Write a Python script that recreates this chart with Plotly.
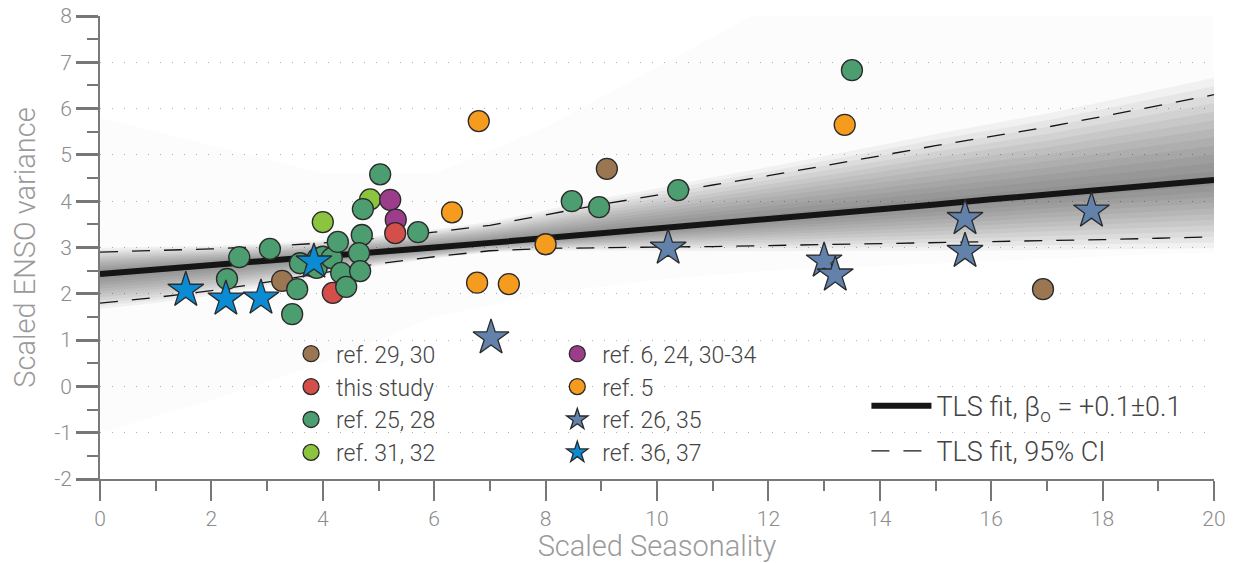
import numpy as np
import plotly.graph_objects as go

# ---------------- data ----------------
brown_x = [3.27, 9.10, 16.93]
brown_y = [2.28, 4.70, 2.10]
red_x = [4.18, 5.30]
red_y = [2.02, 3.31]
green_x = [3.54, 3.45, 3.05, 2.50, 2.28, 3.59, 3.91, 4.00, 3.89, 4.16, 4.27, 4.33, 4.42,
           4.70, 4.65, 4.67, 4.72, 5.03, 5.71, 8.47, 8.96, 10.38, 13.50]
green_y = [2.10, 1.56, 2.97, 2.79, 2.32, 2.66, 2.77, 2.80, 2.56, 2.77, 3.12, 2.45, 2.15,
           3.27, 2.88, 2.49, 3.83, 4.58, 3.33, 4.00, 3.87, 4.24, 6.83]
lgreen_x = [4.00, 4.85]
lgreen_y = [3.55, 4.04]
magenta_x = [5.21, 5.31, 3.81]
magenta_y = [4.03, 3.60, 2.60]
orange_x = [6.80, 6.32, 6.77, 7.34, 8.00, 13.37]
orange_y = [5.73, 3.76, 2.24, 2.21, 3.07, 5.65]
star26_x = [7.02, 10.20, 13.00, 13.20, 15.53, 15.53, 17.80]
star26_y = [1.05, 2.99, 2.71, 2.41, 3.63, 2.92, 3.79]
star36_x = [1.54, 2.26, 2.89, 3.84]
star36_y = [2.08, 1.89, 1.91, 2.69]

fit_x = list(range(0, 21))
fit_y = [2.43, 2.52, 2.62, 2.71, 2.80, 2.90, 3.00, 3.10, 3.20, 3.30, 3.40,
         3.51, 3.62, 3.72, 3.83, 3.93, 4.04, 4.14, 4.25, 4.35, 4.46]
ci_up = [2.90, 2.93, 2.97, 3.02, 3.10, 3.20, 3.33, 3.48, 3.70, 3.93, 4.13,
         4.35, 4.55, 4.76, 4.98, 5.20, 5.40, 5.60, 5.83, 6.07, 6.30]
ci_lo = [1.80, 1.92, 2.07, 2.25, 2.45, 2.65, 2.80, 2.93, 2.98, 3.00, 3.01,
         3.02, 3.04, 3.06, 3.08, 3.10, 3.12, 3.14, 3.17, 3.20, 3.23]
# faint outer fan of bootstrap fits
fan_x = [0, 2, 4, 6, 8, 10, 12, 14, 16, 18, 20]
fan_up = [5.8, 5.2, 4.6, 4.6, 5.6, 6.9, 8.2, 8.5, 8.5, 8.5, 8.5]
fan_lo = [-1.0, -0.3, 0.5, 1.5, 2.0, 2.3, 2.5, 2.6, 2.7, 2.8, 2.9]

xticks = [0, 2, 4, 6, 8, 10, 12, 14, 16, 18, 20]
yticks = [-2, -1, 0, 1, 2, 3, 4, 5, 6, 7, 8]
yticklabels = ["-2", "-1", "0", "1", "2", "3", "4", "5", "6", "7", "8"]

FONT = "Roboto"
fig = go.Figure()

# faint fan
fig.add_trace(go.Scatter(x=fan_x + fan_x[::-1], y=fan_up + fan_lo[::-1], fill="toself",
                         fillcolor="rgba(0,0,0,0.012)", line=dict(width=0),
                         mode="lines", showlegend=False, hoverinfo="skip"))
# graded density bands around the fit (smooth gradient)
fx = np.array(fit_x, float)
fy = np.array(fit_y)
up = np.array(ci_up)
lo = np.array(ci_lo)
for f in np.linspace(1.2, 0.1, 12):
    yu = fy + f * (up - fy)
    yl = fy - f * (fy - lo)
    fig.add_trace(go.Scatter(x=np.concatenate([fx, fx[::-1]]), y=np.concatenate([yu, yl[::-1]]),
                             fill="toself", fillcolor="rgba(0,0,0,0.045)", line=dict(width=0),
                             mode="lines", showlegend=False, hoverinfo="skip"))

# fit and CI
fig.add_trace(go.Scatter(x=fit_x, y=fit_y, mode="lines", line=dict(color="#151515", width=6),
                         name="TLS fit, β<sub>o</sub> = +0.1±0.1", legend="legend3",
                         legendgroup="fit", hoverinfo="skip"))
fig.add_trace(go.Scatter(x=fit_x, y=ci_up, mode="lines",
                         line=dict(color="#151515", width=1.3, dash="18px,14px"),
                         name="TLS fit, 95% CI", legend="legend3", legendgroup="ci", hoverinfo="skip"))
fig.add_trace(go.Scatter(x=fit_x, y=ci_lo, mode="lines",
                         line=dict(color="#151515", width=1.3, dash="18px,14px"),
                         showlegend=False, legendgroup="ci", hoverinfo="skip"))

mline = dict(color="#2a2a2a", width=1.3)
def circ(x, y, color, name, leg, rank):
    fig.add_trace(go.Scatter(x=x, y=y, mode="markers", name=name, legend=leg, legendrank=rank,
                             legendgroup=name,
                             marker=dict(symbol="circle", size=21, color=color, line=mline)))
def star(x, y, color, name, leg, rank):
    fig.add_trace(go.Scatter(x=x, y=y, mode="markers", name=name, legend=leg, legendrank=rank,
                             legendgroup=name,
                             marker=dict(symbol="star", size=27, color=color, line=mline)))

circ(lgreen_x, lgreen_y, "#8cc43f", "ref. 31, 32", "legend", 4)
circ(magenta_x, magenta_y, "#9c3d8c", "ref. 6, 24, 30-34", "legend2", 1)
circ(red_x, red_y, "#d44f4a", "this study", "legend", 2)
circ(brown_x, brown_y, "#9a7652", "ref. 29, 30", "legend", 1)
circ(green_x, green_y, "#4c9d70", "ref. 25, 28", "legend", 3)
circ(orange_x, orange_y, "#f59c1e", "ref. 5", "legend2", 2)
star(star26_x, star26_y, "#6282ac", "ref. 26, 35", "legend2", 3)
star(star36_x, star36_y, "#0b8bd3", "ref. 36, 37", "legend2", 4)

def leg(x, y, size, gap, **kw):
    return dict(x=x, y=y, bgcolor="rgba(0,0,0,0)",
                font=dict(family=FONT, size=size, color="#444", weight=300),
                xanchor="left", yanchor="top", tracegroupgap=gap, itemsizing="trace", **kw)

axfont = dict(family=FONT, size=21, color="#8c8c8c", weight=300)
titfont = dict(family=FONT, size=29, color="#9a9a9a", weight=300)
fig.update_layout(
    width=1234, height=563,
    margin=dict(l=100, r=20, t=16, b=84, autoexpand=False),
    plot_bgcolor="white", paper_bgcolor="white",
    showlegend=True,
    legend=leg(0.167, 0.317, 23, 0, itemwidth=40),
    legend2=leg(0.406, 0.317, 23, 0, itemwidth=40),
    legend3=leg(0.688, 0.21, 27, 7, itemwidth=60),
    xaxis=dict(range=[0, 20], tickvals=xticks, showgrid=False, zeroline=False, automargin=False,
               showline=True, linecolor="#7a7a7a", linewidth=2,
               ticks="outside", ticklen=20, tickwidth=2, tickcolor="#777",
               minor=dict(dtick=1, ticklen=10, tickwidth=2, tickcolor="#777", showgrid=False),
               tickfont=axfont, ticklabeloverflow="allow",
               title=dict(text="Scaled Seasonality", font=titfont, standoff=4)),
    yaxis=dict(range=[-2, 8], tickvals=yticks, ticktext=yticklabels, automargin=False,
               showgrid=True, gridcolor="#b0b0b0", griddash="1px,11px",
               gridwidth=1.3, zeroline=False,
               showline=True, linecolor="#7a7a7a", linewidth=2,
               ticks="outside", ticklen=22, tickwidth=3, tickcolor="#777",
               minor=dict(dtick=0.5, ticklen=11, tickwidth=2, tickcolor="#777", showgrid=False),
               tickfont=axfont, ticklabeloverflow="allow",
               title=dict(text="Scaled ENSO variance", font=titfont, standoff=10)),
)
fig.write_html("out.html", config={"displayModeBar": False},
               post_script="document.body.style.margin='0';")
